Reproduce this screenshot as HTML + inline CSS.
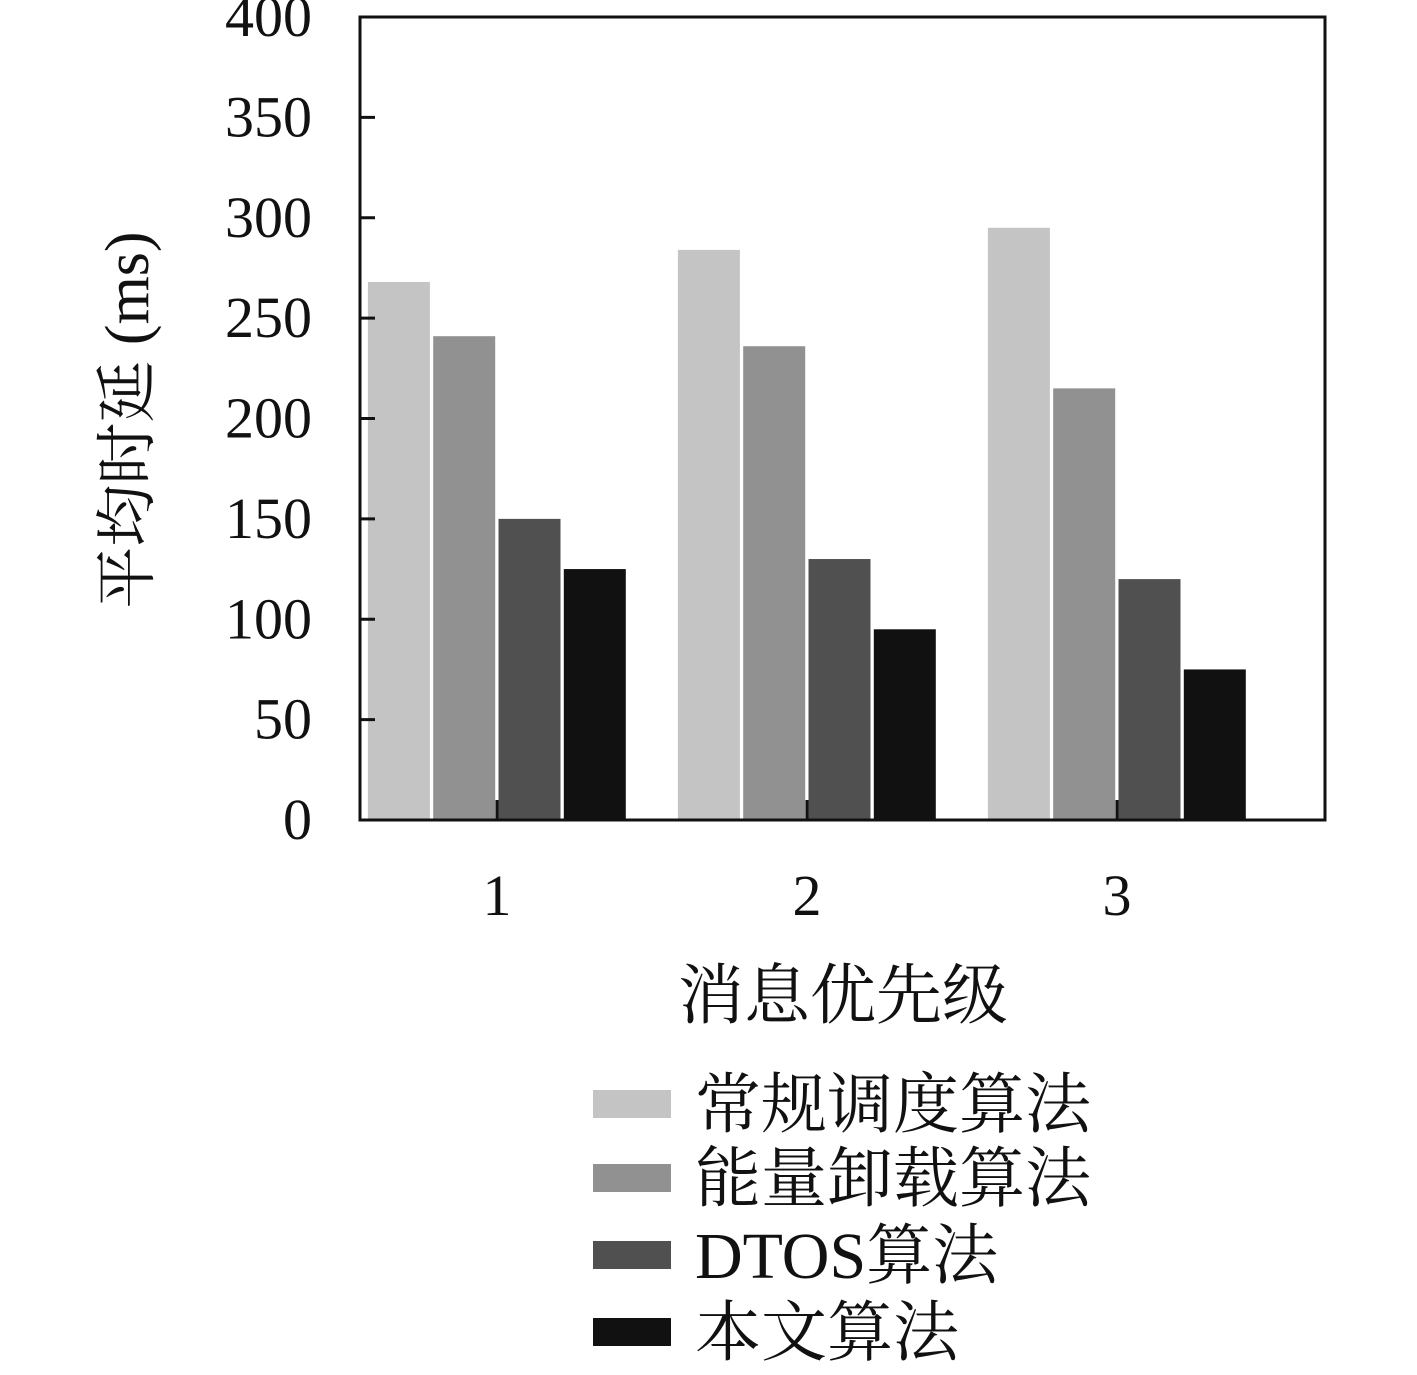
<!DOCTYPE html>
<html><head><meta charset="utf-8"><style>
body{margin:0;background:#fff;}
svg text{font-family:"Liberation Serif","Noto Serif CJK SC",serif;fill:#111;}
</style></head><body>
<svg width="1417" height="1370" viewBox="0 0 1417 1370" xmlns="http://www.w3.org/2000/svg" id="chart">
<g id="bars"></g>
<rect x="360" y="17" width="965" height="803" fill="none" stroke="#111" stroke-width="3"/>
<g id="axes"></g>
<text transform="translate(148,420) rotate(-90)" text-anchor="middle" font-size="62">平均时延 (ms)</text>
<text x="843" y="1018" text-anchor="middle" font-size="66">消息优先级</text>
<g id="legend"></g>
</svg>
<script>
const categories=["1","2","3"];
const seriesNames=["常规调度算法","能量卸载算法","DTOS算法","本文算法"];
const s1=[268,284,295];
const s2=[241,236,215];
const s3=[150,130,120];
const s4=[125,95,75];
const yTicks=[0,50,100,150,200,250,300,350,400];
const colors=["#c4c4c4","#919191","#505050","#111111"];
const NS="http://www.w3.org/2000/svg";
const series=[s1,s2,s3,s4];
const x0=360,x1=1325,yTop=17,yBot=820,yMax=400;
const y=v=>yBot-(v/yMax)*(yBot-yTop);
const groupW=310;
const cx=i=>x0+137+groupW*i;
const barW=62,step=65.3;
function mk(tag,attrs,parent){const e=document.createElementNS(NS,tag);for(const k in attrs)e.setAttribute(k,attrs[k]);parent.appendChild(e);return e;}
const bars=document.getElementById('bars');
series.forEach((s,si)=>{s.forEach((v,ci)=>{
  const left=cx(ci)-2*step+si*step+1.5;
  const r=mk('rect',{x:left,y:y(v),width:barW,height:yBot-y(v),fill:colors[si]},bars);
  
  
});});
const axes=document.getElementById('axes');
yTicks.forEach(t=>{
  const l=mk('line',{x1:x0,x2:x0+15,y1:y(t),y2:y(t),stroke:'#111','stroke-width':3},axes);
  
  
  const tx=mk('text',{x:312,y:y(t)+19,'text-anchor':'end','font-size':58},axes);
  tx.textContent=t;
  
  
});
categories.forEach((c,i)=>{
  const l=mk('line',{x1:cx(i),x2:cx(i),y1:yBot,y2:yBot-20,stroke:'#111','stroke-width':3},axes);
  
  
  const tx=mk('text',{x:cx(i),y:915,'text-anchor':'middle','font-size':58},axes);
  tx.textContent=c;
  
  
});
const lg=document.getElementById('legend');
const rowsY=[1104,1178,1255,1332];
seriesNames.forEach((n,i)=>{
  const r=mk('rect',{x:593,y:rowsY[i]-14,width:78,height:28,fill:colors[i]},lg);
  
  
  const t=mk('text',{x:695,y:rowsY[i]+23,'font-size':66},lg);
  t.textContent=n;
  
  
});
</script>
</body></html>
